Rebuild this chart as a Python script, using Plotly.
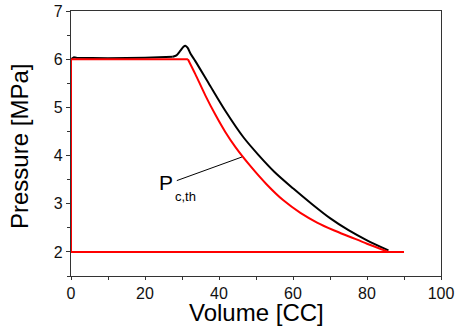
import plotly.graph_objects as go

# Red curve: theoretical compression cycle P_c,th
red_frame_x = [85.8, 90.0, 0, 0, 31.6]
red_frame_y = [2.0, 2.0, 2.0, 6.0, 6.0]
red_curve_x = [31.6, 33.6, 36.3, 39.0, 41.7, 44.5, 48.4, 52.9, 57.4, 62.0, 66.5, 71.0, 75.5, 80.0, 85.8]
red_curve_y = [6.0, 5.69, 5.25, 4.85, 4.49, 4.17, 3.79, 3.40, 3.07, 2.81, 2.61, 2.45, 2.31, 2.17, 2.0]

# Black curve: measured cycle
blk_frame_x = [85.8, 90.0, 0, 0, 0.8, 1.5, 10, 20, 27.5]
blk_frame_y = [2.0, 2.0, 2.0, 6.0, 6.04, 6.03, 6.02, 6.03, 6.05]
blk_curve_x = [27.5, 28.5, 29.5, 30.4, 30.9, 31.5, 32.4, 33.6, 37.2, 41.7, 46.6, 50.7, 55.0, 60.0, 65.0, 70.0, 75.0, 80.0, 85.8]
blk_curve_y = [6.05, 6.08, 6.17, 6.26, 6.28, 6.24, 6.10, 5.96, 5.50, 4.93, 4.38, 4.01, 3.66, 3.32, 3.00, 2.70, 2.45, 2.24, 2.03]

x_ticks = [0, 20, 40, 60, 80, 100]
y_ticks = [2, 3, 4, 5, 6, 7]

FONT = "Arial, Liberation Sans, sans-serif"

fig = go.Figure()
fig.add_trace(go.Scatter(x=blk_frame_x, y=blk_frame_y, mode="lines",
                         line=dict(color="black", width=2), showlegend=False))
fig.add_trace(go.Scatter(x=blk_curve_x, y=blk_curve_y, mode="lines",
                         line=dict(color="black", width=2, shape="spline", smoothing=0.8),
                         showlegend=False))
fig.add_trace(go.Scatter(x=red_frame_x, y=red_frame_y, mode="lines",
                         line=dict(color="#ff0000", width=2), showlegend=False))
fig.add_trace(go.Scatter(x=red_curve_x, y=red_curve_y, mode="lines",
                         line=dict(color="#ff0000", width=2, shape="spline", smoothing=0.8),
                         showlegend=False))

axis_common = dict(showgrid=False, zeroline=False, showline=True, linecolor="#333333",
                   linewidth=1.3, mirror=True, ticks="outside", tickwidth=1.2,
                   tickcolor="#333333", automargin=False,
                   tickfont=dict(family=FONT, size=16, color="#111111"))

fig.update_xaxes(range=[0, 100], tickvals=x_ticks, ticktext=[str(v) for v in x_ticks], ticklen=3,
                 minor=dict(dtick=10, tick0=0, ticks="outside", ticklen=3, tickcolor="#333333"),
                 **axis_common)
fig.update_yaxes(range=[1.5, 7], tickvals=y_ticks, ticktext=[str(v) for v in y_ticks], ticklen=4,
                 minor=dict(dtick=0.5, tick0=0, ticks="outside", ticklen=3, tickcolor="#333333"),
                 **axis_common)

fig.add_shape(type="line", x0=28.6, y0=3.48, x1=46.2, y1=3.97,
              line=dict(color="black", width=1))

fig.add_annotation(x=25.6, y=3.45, text="P", showarrow=False,
                   font=dict(family=FONT, size=21, color="black"))
fig.add_annotation(x=31.0, y=3.15, text="c,th", showarrow=False,
                   font=dict(family=FONT, size=13, color="black"))

fig.add_annotation(xref="paper", yref="paper", x=0.5, y=-0.138, text="Volume [CC]",
                   showarrow=False, yanchor="middle", xanchor="center",
                   font=dict(family=FONT, size=24, color="black"))
fig.add_annotation(xref="paper", yref="paper", x=-0.141, y=0.49, text="Pressure [MPa]",
                   showarrow=False, textangle=-90, yanchor="middle", xanchor="center",
                   font=dict(family=FONT, size=24, color="black"))

fig.update_layout(width=455, height=327, margin=dict(l=71, r=14, t=11, b=51, autoexpand=False),
                  plot_bgcolor="white", paper_bgcolor="white")

fig.write_html("out.html", config={"displayModeBar": False},
               post_script="document.body.style.margin='0';document.body.style.padding='0';")
